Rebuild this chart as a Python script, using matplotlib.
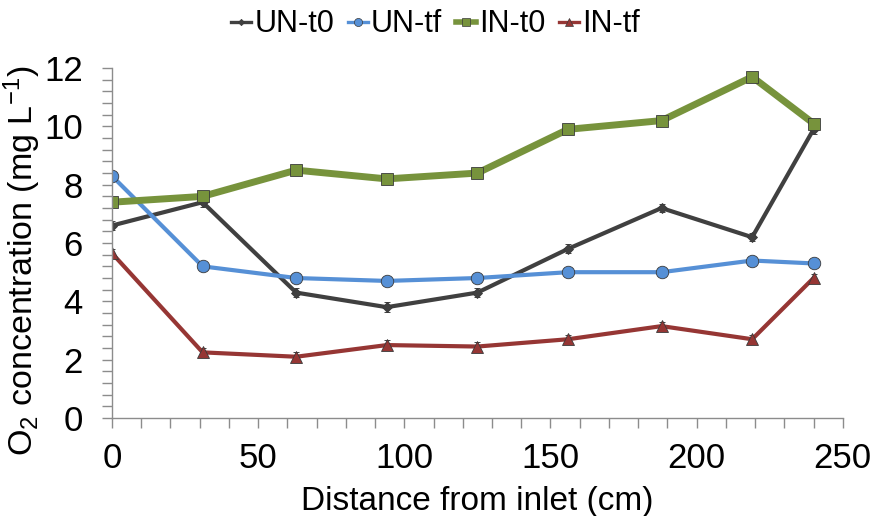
import numpy as np
import matplotlib
matplotlib.use("Agg")
import matplotlib.pyplot as plt
from matplotlib.ticker import MultipleLocator
from matplotlib.lines import Line2D

# distance from inlet (cm)
distance = [0, 31, 63, 94, 125, 156, 188, 219, 240]

un_t0 = [6.6, 7.4, 4.3, 3.8, 4.3, 5.8, 7.2, 6.2, 9.9]
un_tf = [8.3, 5.2, 4.8, 4.7, 4.8, 5.0, 5.0, 5.4, 5.3]
in_t0 = [7.4, 7.6, 8.5, 8.2, 8.4, 9.9, 10.2, 11.7, 10.1]
in_tf = [5.65, 2.25, 2.1, 2.5, 2.45, 2.7, 3.15, 2.7, 4.8]

un_t0_err = [0.15, 0.15, 0.15, 0.17, 0.15, 0.15, 0.15, 0.13, 0.15]
un_tf_err = [0.15, 0.15, 0.17, 0.17, 0.15, 0.15, 0.15, 0.15, 0.15]
in_t0_err = [0.15, 0.12, 0.15, 0.15, 0.15, 0.15, 0.15, 0.15, 0.15]
in_tf_err = [0.15, 0.15, 0.17, 0.17, 0.15, 0.15, 0.15, 0.15, 0.15]

series = [
    ("UN-t0", un_t0, un_t0_err, "#404040", "D", 3.0, 5),
    ("UN-tf", un_tf, un_tf_err, "#5690d6", "o", 3.0, 9),
    ("IN-t0", in_t0, in_t0_err, "#77933c", "s", 5.0, 9),
    ("IN-tf", in_tf, in_tf_err, "#963634", "^", 3.0, 8),
]

plt.rcParams['font.family'] = ['Liberation Sans', 'DejaVu Sans']
plt.rcParams['mathtext.fontset'] = 'custom'
plt.rcParams['mathtext.rm'] = 'Liberation Sans'
plt.rcParams['mathtext.it'] = 'Liberation Sans:italic'

fig = plt.figure(figsize=(8.71, 5.16), dpi=100)
ax = fig.add_axes([0.1286, 0.19, 0.839, 0.678])

handles = []
for name, vals, err, color, marker, lw, ms in series:
    ax.errorbar(distance, vals, yerr=err, color=color, lw=lw, marker=marker,
                markersize=ms, markeredgecolor="#3a3a3a", markeredgewidth=0.6,
                ecolor="#222222", elinewidth=0.9, capsize=2.5, capthick=0.9)
    handles.append(Line2D([], [], color=color, lw=lw * 0.8, marker=marker,
                          markersize=ms * 0.65, markeredgecolor="#3a3a3a",
                          markeredgewidth=0.5, label=name))

ax.set_xlim(0, 250)
ax.set_ylim(0, 12)
ax.xaxis.set_major_locator(MultipleLocator(50))
ax.xaxis.set_minor_locator(MultipleLocator(10))
ax.yaxis.set_major_locator(MultipleLocator(2))
ax.yaxis.set_minor_locator(MultipleLocator(0.4))

for side in ["top", "right"]:
    ax.spines[side].set_visible(False)
for side in ["left", "bottom"]:
    ax.spines[side].set_color("#8c8c8c")
    ax.spines[side].set_linewidth(1.0)

ax.tick_params(which="both", direction="out", color="#8c8c8c", width=1.0,
               length=7, labelsize=25)
ax.tick_params(axis="y", pad=14)
ax.tick_params(axis="x", pad=10)

ax.set_xlabel("Distance from inlet (cm)", fontsize=24, labelpad=8)
ax.set_ylabel("O$_2$ concentration (mg L$^{\\mathrm{-1}}$)", fontsize=24.5)
ax.yaxis.set_label_coords(-0.095, 0.45)

fig.legend(handles=handles, loc="upper center", bbox_to_anchor=(0.5, 1.035),
           ncol=4, frameon=False, fontsize=22, handlelength=0.65,
           handletextpad=0.1, columnspacing=0.45)

fig.savefig("out.png", dpi=100)
